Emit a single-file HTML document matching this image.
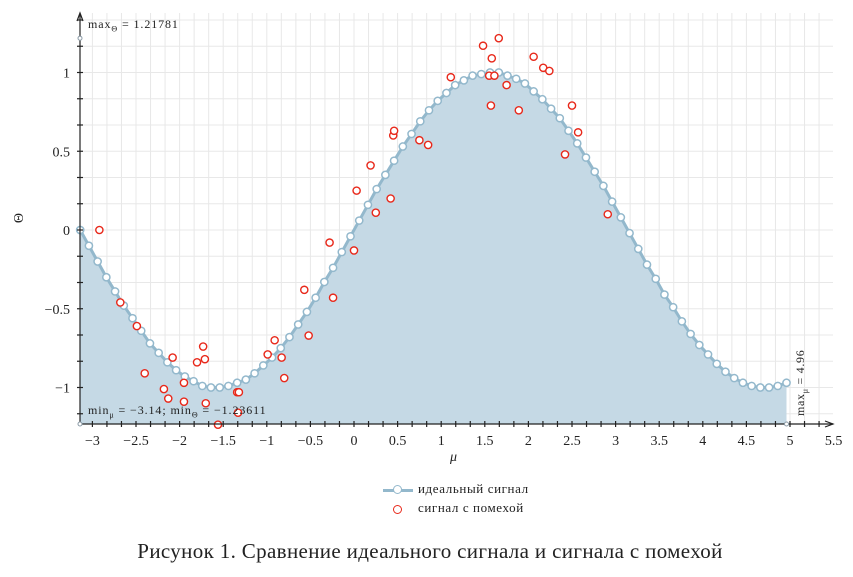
<!DOCTYPE html>
<html><head><meta charset="utf-8">
<style>
html,body{margin:0;padding:0;background:#fff;}
svg{display:block;font-family:"Liberation Serif",serif;}
</style></head>
<body>
<svg id="chart" width="853" height="577" viewBox="0 0 853 577"></svg>
<script>
const xTicks=[-3,-2.5,-2,-1.5,-1,-0.5,0,0.5,1,1.5,2,2.5,3,3.5,4,4.5,5,5.5];
const xTickLabels=["\u22123","\u22122.5","\u22122","\u22121.5","\u22121","\u22120.5","0","0.5","1","1.5","2","2.5","3","3.5","4","4.5","5","5.5"];
const yTicks=[1,0.5,0,-0.5,-1];
const yTickLabels=["1","0.5","0","\u22120.5","\u22121"];
const idealStart=-3.14;
const idealStep=0.1;
const idealValues=[0.00,-0.10,-0.20,-0.30,-0.39,-0.48,-0.56,-0.64,-0.72,-0.78,-0.84,-0.89,-0.93,-0.96,-0.99,-1.00,-1.00,-0.99,-0.97,-0.95,-0.91,-0.86,-0.81,-0.75,-0.68,-0.60,-0.52,-0.43,-0.33,-0.24,-0.14,-0.04,0.06,0.16,0.26,0.35,0.44,0.53,0.61,0.69,0.76,0.82,0.87,0.92,0.95,0.98,0.99,1.00,1.00,0.98,0.96,0.93,0.88,0.83,0.77,0.71,0.63,0.55,0.46,0.37,0.28,0.18,0.08,-0.02,-0.12,-0.22,-0.31,-0.41,-0.49,-0.58,-0.66,-0.73,-0.79,-0.85,-0.90,-0.94,-0.97,-0.99,-1.00,-1.00,-0.99,-0.97];
const noisyX=[-2.92,-2.68,-2.49,-2.40,-2.18,-2.13,-2.08,-1.95,-1.95,-1.80,-1.73,-1.71,-1.70,-1.56,-1.34,-1.32,-1.33,-0.99,-0.91,-0.83,-0.80,-0.57,-0.52,-0.28,-0.24,0.00,0.03,0.19,0.25,0.42,0.45,0.46,0.75,0.85,1.11,1.48,1.66,1.58,1.55,1.61,1.75,1.57,1.89,2.06,2.17,2.24,2.50,2.57,2.42,2.91];
const noisyY=[0.00,-0.46,-0.61,-0.91,-1.01,-1.07,-0.81,-1.09,-0.97,-0.84,-0.74,-0.82,-1.10,-1.236,-1.03,-1.03,-1.16,-0.79,-0.70,-0.81,-0.94,-0.38,-0.67,-0.08,-0.43,-0.13,0.25,0.41,0.11,0.20,0.60,0.63,0.57,0.54,0.97,1.17,1.218,1.09,0.98,0.98,0.92,0.79,0.76,1.10,1.03,1.01,0.79,0.62,0.48,0.10];

const NS="http://www.w3.org/2000/svg";
const svg=document.getElementById('chart');
const X0=354,XS=87.2,Y0=230,YS=157.5;
const sx=v=>X0+v*XS, sy=v=>Y0-v*YS;
const L=80,R=833,T=13,B=424;
function mk(tag,attrs,parent){const e=document.createElementNS(NS,tag);for(const k in attrs)e.setAttribute(k,attrs[k]);(parent||svg).appendChild(e);return e;}

const grid=mk('g',{});


for(let k=-18;k<=33;k++){const px=sx(k/6);if(px<L-0.5||px>R+0.5)continue;mk('line',{x1:px,x2:px,y1:T,y2:B,stroke:'#e8e8e8','stroke-width':1},grid);}
for(let k=-7;k<=13;k++){const py=sy(k/6);if(py<T||py>B)continue;mk('line',{x1:L,x2:R,y1:py,y2:py,stroke:'#e8e8e8','stroke-width':1},grid);}

let pts=idealValues.map((v,i)=>[sx(idealStart+i*idealStep),sy(v)]);
const lastX=pts[pts.length-1][0];
const area=mk('path',{d:'M'+pts[0][0]+','+B+' L'+pts.map(p=>p.join(',')).join(' L')+' L'+lastX+','+B+' Z',fill:'#c5d9e5'});


const line=mk('polyline',{points:pts.map(p=>p.join(',')).join(' '),fill:'none',stroke:'#93b8cc','stroke-width':3});


pts.forEach((p,i)=>{const c=mk('circle',{cx:p[0],cy:p[1],r:3.6,fill:'#fff',stroke:'#93b8cc','stroke-width':1.5});

});

noisyX.forEach((x,i)=>{const c=mk('circle',{cx:sx(x),cy:sy(noisyY[i]),r:3.6,fill:'#fff',stroke:'#e8281a','stroke-width':1.4});

});

const axes=mk('g',{stroke:'#222','stroke-width':1.2,fill:'none'});


mk('line',{x1:L,y1:B,x2:L,y2:T+1},axes);
mk('path',{d:`M${L-3},${T+8} L${L},${T} L${L+3},${T+8}`},axes);
mk('line',{x1:L,y1:B,x2:R,y2:B},axes);
mk('path',{d:`M${R-8},${B-3} L${R},${B} L${R-8},${B+3}`},axes);
for(let k=-18;k<=32;k++){const px=sx(k/6);if(px<L+2||px>R-2)continue;mk('line',{x1:px,x2:px,y1:B-3,y2:B+3},axes);}
for(let k=-7;k<=8;k++){const py=sy(k/6);if(py<T+5||py>B-2)continue;mk('line',{x1:L-3,x2:L+3,y1:py,y2:py},axes);}

xTicks.forEach((v,i)=>{const t=mk('text',{x:sx(v),y:445,'text-anchor':'middle','font-size':14,fill:'#222'});t.textContent=xTickLabels[i];

});
yTicks.forEach((v,i)=>{const t=mk('text',{x:70,y:sy(v)+5,'text-anchor':'end','font-size':14,fill:'#222'});t.textContent=yTickLabels[i];

});

[[L,sy(1.21781)],[L,B],[lastX,B]].forEach(p=>{const c=mk('circle',{cx:p[0],cy:p[1],r:2,fill:'#fff',stroke:'#8a9aa6','stroke-width':1});

});
</script>
<div style="position:absolute;left:0;top:0;width:853px;height:577px;pointer-events:none;font-family:'Liberation Serif',serif;color:#222;">
  <div style="position:absolute;left:88px;top:17px;font-size:12px;letter-spacing:0.9px;white-space:nowrap;">max<sub style="font-size:8px;">Θ</sub> = 1.21781</div>
  <div style="position:absolute;left:88px;top:403px;font-size:12px;letter-spacing:0.9px;white-space:nowrap;">min<sub style="font-size:8px;">μ</sub> = −3.14; min<sub style="font-size:8px;">Θ</sub> = −1.23611</div>
  <div style="position:absolute;left:794px;top:416px;font-size:12px;letter-spacing:0.7px;white-space:nowrap;transform:rotate(-90deg);transform-origin:0 0;line-height:12px;">max<sub style="font-size:8px;">μ</sub> = 4.96</div>
  <div style="position:absolute;left:450px;top:450px;font-size:14px;font-style:italic;">μ</div>
  <div style="position:absolute;left:12px;top:210px;font-size:14px;transform:rotate(-90deg);transform-origin:50% 50%;width:16px;text-align:center;">Θ</div>
  <div style="position:absolute;left:383px;top:481px;font-size:13px;letter-spacing:0.6px;">
    <div style="position:relative;height:19px;">
      <span style="position:absolute;left:0;top:8px;width:30px;height:3px;background:#93b8cc;"></span>
      <span style="position:absolute;left:10px;top:4px;width:7px;height:7px;border:1.5px solid #93b8cc;border-radius:50%;background:#fff;"></span>
      <span style="position:absolute;left:35px;top:0px;white-space:nowrap;">идеальный сигнал</span>
    </div>
    <div style="position:relative;height:19px;">
      <span style="position:absolute;left:10px;top:5px;width:7px;height:7px;border:1.4px solid #e8281a;border-radius:50%;background:#fff;"></span>
      <span style="position:absolute;left:35px;top:0px;white-space:nowrap;">сигнал с помехой</span>
    </div>
  </div>
  <div style="position:absolute;left:0;width:860px;top:539px;text-align:center;font-size:21px;letter-spacing:0.35px;white-space:nowrap;">Рисунок 1. Сравнение идеального сигнала и сигнала с помехой</div>
</div>
</body></html>
